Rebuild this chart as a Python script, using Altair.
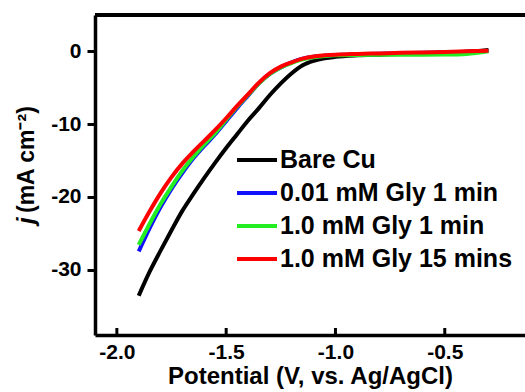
import altair as alt
import pandas as pd

potential = [-1.9, -1.85, -1.8, -1.75, -1.7, -1.65, -1.6, -1.55, -1.5, -1.45, -1.4, -1.35, -1.3,
             -1.25, -1.2, -1.15, -1.1, -1.05, -1.0, -0.9, -0.8, -0.7, -0.6, -0.5, -0.4, -0.3]

bare_cu = [-33.6, -30.3, -27.4, -24.6, -21.9, -19.6, -17.4, -15.3, -13.3, -11.4, -9.5, -7.8, -6.0,
           -4.4, -3.0, -1.9, -1.3, -0.95, -0.75, -0.55, -0.45, -0.35, -0.25, -0.15, -0.05, 0.2]
gly001_1 = [-27.5, -24.3, -21.4, -18.9, -16.7, -14.7, -13.0, -11.4, -9.6, -7.8, -6.1, -4.4, -3.1,
            -2.2, -1.5, -1.0, -0.75, -0.6, -0.5, -0.4, -0.32, -0.25, -0.2, -0.15, -0.05, 0.05]
gly10_1 = [-26.6, -23.7, -21.0, -18.6, -16.4, -14.5, -12.8, -11.2, -9.4, -7.6, -6.0, -4.4, -3.1,
           -2.2, -1.6, -1.1, -0.8, -0.65, -0.55, -0.5, -0.48, -0.47, -0.46, -0.44, -0.35, 0.0]
gly10_15 = [-24.7, -22.0, -19.5, -17.3, -15.4, -13.8, -12.3, -10.8, -9.2, -7.5, -5.9, -4.3, -3.0,
            -2.1, -1.5, -1.0, -0.7, -0.55, -0.45, -0.35, -0.28, -0.2, -0.15, -0.1, 0.0, 0.1]

series_names = ["Bare Cu", "0.01 mM Gly 1 min", "1.0 mM Gly 1 min", "1.0 mM Gly 15 mins"]
series_colors = ["#000000", "#1010ff", "#22ee22", "#ff0000"]
series_values = [bare_cu, gly001_1, gly10_1, gly10_15]

x_ticks = [-2.0, -1.5, -1.0, -0.5]
y_ticks = [0, -10, -20, -30]

rows = []
for name, vals in zip(series_names, series_values):
    for xv, yv in zip(potential, vals):
        rows.append({"series": name, "E": xv, "j": yv})
df = pd.DataFrame(rows)

W, H = 430, 320
FONT = "Arial"

xscale = alt.Scale(domain=[-2.1, -0.133], nice=False, zero=False)
yscale = alt.Scale(domain=[-39, 5], nice=False, zero=False)

xlabel_expr = "(datum.value < 0 ? '-' : '') + format(abs(datum.value), '.1f')"
ylabel_expr = "(datum.value < 0 ? '-' : '') + format(abs(datum.value), 'd')"

lines = alt.Chart(df).mark_line(strokeWidth=4, interpolate="monotone").encode(
    x=alt.X("E:Q", scale=xscale,
            axis=alt.Axis(values=x_ticks, labelExpr=xlabel_expr, ticks=False, tickSize=0,
                          grid=False, domainWidth=3.5, domainColor="black", labelFont=FONT,
                          labelFontSize=21, labelFontWeight="bold", labelColor="black",
                          labelPadding=6, title="Potential (V, vs. Ag/AgCl)",
                          titleFont=FONT, titleFontSize=24, titleFontWeight="bold",
                          titleColor="black", titlePadding=2, labelFlush=False)),
    y=alt.Y("j:Q", scale=yscale,
            axis=alt.Axis(values=y_ticks, labelExpr=ylabel_expr, tickSize=8, tickWidth=3,
                          tickColor="black", grid=False, domainWidth=3.5, domainColor="black",
                          labelFont=FONT, labelFontSize=21, labelFontWeight="bold",
                          labelColor="black", labelPadding=6, title=None, labelFlush=False)),
    color=alt.Color("series:N",
                    scale=alt.Scale(domain=series_names, range=series_colors),
                    legend=alt.Legend(orient="none", legendX=140, legendY=133, title=None,
                                      symbolType="stroke", symbolSize=1600, symbolStrokeWidth=4,
                                      labelFont=FONT, labelFontSize=25, labelFontWeight="bold",
                                      labelColor="black", labelOffset=1, clipHeight=24,
                                      rowPadding=8, padding=0, labelLimit=400)),
)

tick_df = pd.DataFrame({"t": x_ticks})
xticks = alt.Chart(tick_df).mark_rule(color="black", strokeWidth=3).encode(
    x=alt.X("t:Q", scale=xscale),
    y=alt.value(H - 7),
    y2=alt.value(H),
)

top_line = alt.Chart(tick_df).mark_rule(color="black", strokeWidth=4).encode(
    x=alt.value(0), x2=alt.value(W), y=alt.value(0)
)

ytitle_j = alt.Chart(pd.DataFrame({"s": ["j"]})).mark_text(
    angle=270, align="left", baseline="alphabetic", font=FONT, fontSize=24,
    fontStyle="italic", fontWeight="bold", color="black"
).encode(text="s:N", x=alt.value(-61), y=alt.value(209))

ytitle_rest = alt.Chart(pd.DataFrame({"s": ["(mA cm⁻²)"]})).mark_text(
    angle=270, align="left", baseline="alphabetic", font=FONT, fontSize=23,
    fontWeight="bold", color="black"
).encode(text="s:N", x=alt.value(-61), y=alt.value(198))

chart = alt.layer(lines, xticks, top_line, ytitle_j, ytitle_rest).properties(
    width=W, height=H,
    autosize=alt.AutoSizeParams(type="none"),
    padding={"left": 95, "top": 15, "right": 0, "bottom": 57},
).configure_view(stroke=None).configure(background="white")

chart.save("out.html", embed_options={"renderer": "svg", "actions": False})
